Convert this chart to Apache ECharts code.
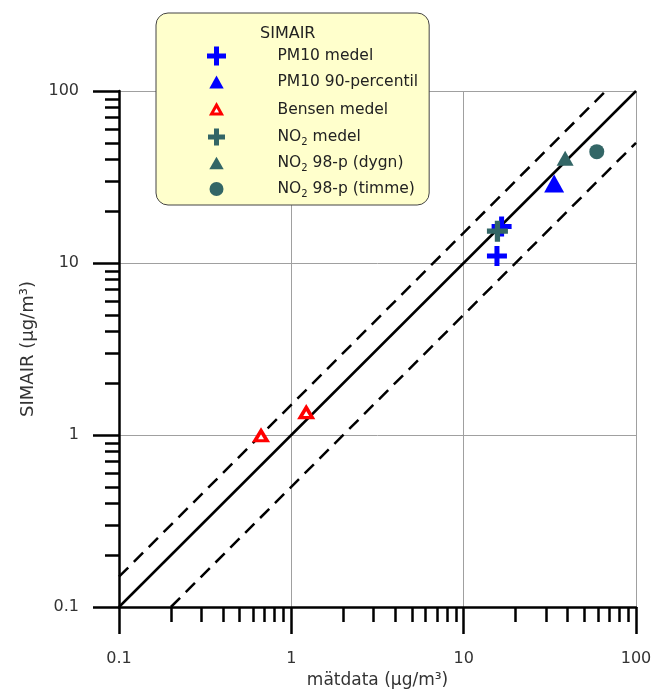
<!DOCTYPE html>
<html>
<head>
<meta charset="utf-8">
<script src="https://cdn.jsdelivr.net/npm/echarts@6/dist/echarts.min.js"></script>
<style>
  html, body { margin: 0; padding: 0; background: #fff; }
  #chart { width: 653px; height: 692px; }
</style>
</head>
<body>
<div id="chart"></div>
<script>
// Log-axis ticks (µg/m³)
const majorTicks = [0.1, 1, 10, 100];
const minorTicks = [0.2, 0.3, 0.4, 0.5, 0.6, 0.7, 0.8, 0.9,
                    2, 3, 4, 5, 6, 7, 8, 9,
                    20, 30, 40, 50, 60, 70, 80, 90];

// Reference lines: 1:1 and the 1.5x / 0.5x band
const lineOneToOne = [[0.1, 0.1], [100, 100]];
const lineUpper = [[0.1, 0.15], [66.7, 100]];
const lineLower = [[0.2, 0.1], [100, 50]];

// [mätdata, SIMAIR] pairs
const pm10Mean = [[15.6, 11.0], [16.6, 16.3]];
const pm10P90 = [[33.5, 29.0]];
const benzeneMean = [[0.667, 0.99], [1.22, 1.35]];
const no2Mean = [[15.7, 15.3]];
const no2P98Day = [[38.8, 40.6]];
const no2P98Hour = [[59.2, 44.4]];

const seriesNames = ['PM10 medel', 'PM10 90-percentil', 'Bensen medel',
                     'NO₂ medel', 'NO₂ 98-p (dygn)', 'NO₂ 98-p (timme)'];

const FONT = 'DejaVu Sans';
const TEXT = '#333';
const BLUE = '#0000ff';
const TEAL = '#336666';
const RED = '#ff0000';
const PLUS = 'path://M7.5,0H12.5V7.5H20V12.5H12.5V20H7.5V12.5H0V7.5H7.5Z';

const chart = echarts.init(document.getElementById('chart'), null, { renderer: 'canvas' });

function refLine(data, type) {
  return {
    type: 'line', data: data, symbol: 'none', silent: true, z: 2,
    lineStyle: { color: '#000', width: 2.5, type: type },
    emphasis: { disabled: true }
  };
}

function scatter(name, data, symbol, size, itemStyle) {
  return {
    type: 'scatter', name: name, data: data, symbol: symbol, symbolSize: size,
    itemStyle: Object.assign({ opacity: 1 }, itemStyle),
    z: 3, silent: true, emphasis: { disabled: true }
  };
}

const baseAxis = {
  type: 'log', logBase: 10, min: 0.1, max: 100,
  axisLine: { show: true, onZero: false, lineStyle: { color: '#000', width: 2.5 } },
  axisTick: { show: true, inside: false, customValues: majorTicks,
              lineStyle: { color: '#000', width: 2.5 } },
  axisLabel: { customValues: majorTicks, fontFamily: FONT, fontSize: 16, color: TEXT },
  splitLine: { show: true, lineStyle: { color: '#a0a0a0', width: 1 } },
  minorTick: { show: false },
  nameLocation: 'middle'
};

const minorAxis = {
  type: 'log', logBase: 10, min: 0.1, max: 100,
  axisLine: { show: false, onZero: false },
  axisTick: { show: true, inside: false, customValues: minorTicks,
              lineStyle: { color: '#000', width: 2.5 } },
  axisLabel: { show: false },
  splitLine: { show: false }
};

chart.setOption({
  animation: false,
  backgroundColor: '#fff',
  title: {
    text: 'SIMAIR', left: 260, top: 26, padding: 0,
    textStyle: { fontFamily: FONT, fontSize: 16, fontWeight: 'normal', color: '#222' }
  },
  legend: {
    orient: 'vertical', left: 156, top: 13,
    padding: [33, 11, 6, 49],
    itemWidth: 20, itemHeight: 20, itemGap: 6,
    symbolKeepAspect: true,
    selectedMode: false,
    backgroundColor: '#ffffcc', borderColor: '#444', borderWidth: 1, borderRadius: 12,
    formatter: name => '{gap| }' + name.replace('₂', '{sub|2}'),
    textStyle: {
      fontFamily: FONT, fontSize: 15.5, color: '#222', lineHeight: 20,
      rich: {
        gap: { width: 46, lineHeight: 20 },
        sub: { fontFamily: FONT, fontSize: 10, color: '#222', lineHeight: 12, verticalAlign: 'bottom' }
      }
    },
    data: [
      { name: seriesNames[0], icon: 'path://M0,0M20,20M7.5,0.5H12.5V7.5H19.5V12.5H12.5V19.5H7.5V12.5H0.5V7.5H7.5Z' },
      { name: seriesNames[1], icon: 'path://M0,0M20,20M10,3.6L17.2,16.4L2.8,16.4Z' },
      { name: seriesNames[2], icon: 'path://M0,0M20,20M10,5.5L15,14.5L5,14.5Z', itemStyle: { borderWidth: 3 } },
      { name: seriesNames[3], icon: 'path://M0,0M20,20M7.5,1.5H12.5V7.5H18.5V12.5H12.5V18.5H7.5V12.5H1.5V7.5H7.5Z' },
      { name: seriesNames[4], icon: 'path://M0,0M20,20M10,3.8L17.2,16.2L2.8,16.2Z' },
      { name: seriesNames[5], icon: 'path://M0,0M20,20M17,10A7,7,0,1,1,3,10A7,7,0,1,1,17,10Z' }
    ]
  },
  grid: { left: 119, top: 91, width: 517, height: 516, containLabel: false, outerBoundsMode: 'none' },
  xAxis: [
    Object.assign({}, baseAxis, {
      position: 'bottom',
      name: 'mätdata (µg/m³)', nameGap: 64,
      nameTextStyle: { fontFamily: FONT, fontSize: 17, color: TEXT },
      axisTick: Object.assign({}, baseAxis.axisTick, { length: 27 }),
      axisLabel: Object.assign({}, baseAxis.axisLabel, { margin: 44 })
    }),
    Object.assign({}, minorAxis, {
      position: 'bottom',
      axisTick: Object.assign({}, minorAxis.axisTick, { length: 15 })
    })
  ],
  yAxis: [
    Object.assign({}, baseAxis, {
      position: 'left',
      name: 'SIMAIR (µg/m³)', nameGap: 69, nameRotate: 90,
      nameTextStyle: { fontFamily: FONT, fontSize: 18, color: TEXT },
      axisTick: Object.assign({}, baseAxis.axisTick, { length: 26 }),
      axisLabel: Object.assign({}, baseAxis.axisLabel, { margin: 40 })
    }),
    Object.assign({}, minorAxis, {
      position: 'left',
      axisTick: Object.assign({}, minorAxis.axisTick, { length: 14 })
    })
  ],
  series: [
    refLine(lineOneToOne, 'solid'),
    refLine(lineUpper, [13, 8]),
    refLine(lineLower, [13, 8]),
    scatter(seriesNames[0], pm10Mean, PLUS, 20, { color: BLUE }),
    scatter(seriesNames[1], pm10P90, 'triangle', [20, 18], { color: BLUE }),
    scatter(seriesNames[2], benzeneMean, 'triangle', [12, 10],
            { color: '#fff', borderColor: RED, borderWidth: 3.5 }),
    scatter(seriesNames[3], no2Mean, PLUS, 21, { color: TEAL }),
    scatter(seriesNames[4], no2P98Day, 'triangle', [17, 15], { color: TEAL }),
    scatter(seriesNames[5], no2P98Hour, 'circle', 15, { color: TEAL })
  ]
});
</script>
</body>
</html>
